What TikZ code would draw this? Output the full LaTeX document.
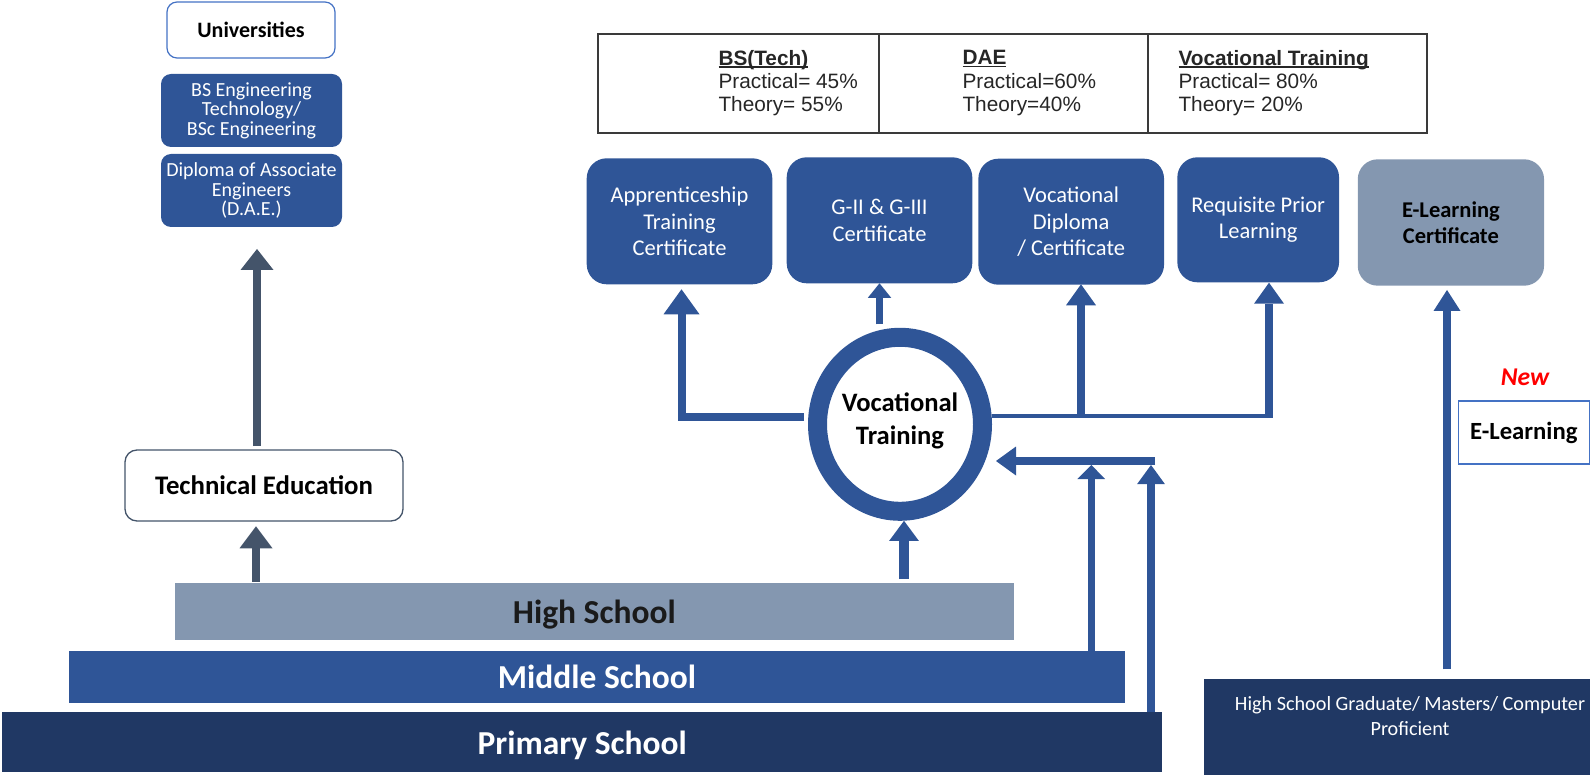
\documentclass[tikz,border=0pt]{standalone}
\usepackage{fontspec}
\setmainfont{Carlito}
\newfontfamily\arialf{Liberation Sans}
\usetikzlibrary{arrows.meta,shapes.geometric}
\newcommand{\myfs}[2]{\fontsize{#1}{#2}\selectfont}
\newcommand{\myul}[1]{\setbox0\hbox{#1}\rlap{\rule[-2.4pt]{\wd0}{1.3pt}}\box0}
\definecolor{cblue}{HTML}{2F5597}
\definecolor{cnavy}{HTML}{203864}
\definecolor{cgray}{HTML}{8497B0}
\definecolor{cslate}{HTML}{44546A}
\definecolor{cline}{HTML}{4472C4}
\definecolor{ctab}{HTML}{262626}
\definecolor{ctabline}{HTML}{3A3A3A}
\definecolor{ctext}{HTML}{1A1A1A}
\begin{document}
\begin{tikzpicture}[x=1pt,y=-1pt,
  base/.style={rectangle, inner sep=0pt, outer sep=0pt, align=center},
  navbox/.style={base, rounded corners=10pt, fill=cblue, text=white, font=\myfs{20}{19.5}},
  certbox/.style={base, rounded corners=20pt, fill=cblue, text=white, font=\myfs{22.5}{26.5}},
  bar/.style={base, font=\bfseries\myfs{33.5}{38}},
  cell/.style={base, draw=ctabline, line width=1.8pt},
  tabtext/.style={anchor=west, align=left, inner sep=0pt, text=ctab, font=\arialf\myfs{20.8}{23.3}},
  barrow/.style n args={3}{draw=cblue, line width=#1pt, -{Triangle[width=#2pt,length=#3pt,line width=0pt]}},
  garrow/.style n args={3}{draw=cslate, line width=#1pt, -{Triangle[width=#2pt,length=#3pt,line width=0pt]}}
]
\useasboundingbox (0,0) rectangle (1590,775);

% left column
\node[base, draw=cline, line width=1.2pt, rounded corners=10pt, minimum width=168pt, minimum height=56pt, font=\bfseries\myfs{22}{26}] (univ) at (251,30) {Universities};
\node[navbox, minimum width=181pt, minimum height=73pt] (bse) at (251.5,110.5) {BS Engineering\\Technology/\\BSc Engineering};
\node[navbox, minimum width=181pt, minimum height=73pt] (dae) at (251.5,190.5) {Diploma of Associate\\Engineers\\(D.A.E.)};
\node[base, draw=cslate, line width=1.3pt, rounded corners=12pt, minimum width=278pt, minimum height=71pt, font=\bfseries\myfs{26.8}{30}] (te) at (264,485.5) {Technical Education};

% school bars
\node[bar, fill=cgray, text=ctext, minimum width=839.5pt, minimum height=57pt] (hs) at (594.3,611.5) {\rule{0pt}{30pt}High School};
\node[bar, fill=cblue, text=white, minimum width=1056pt, minimum height=52.6pt] (ms) at (597,677) {Middle School};
\node[bar, fill=cnavy, text=white, minimum width=1160pt, minimum height=60pt] (ps) at (582.3,741.7) {\rule{0pt}{31pt}Primary School};

% table
\node[cell, minimum width=281.3pt, minimum height=99.3pt] (tc1) at (738.65,83.65) {};
\node[cell, minimum width=268.7pt, minimum height=99.3pt] (tc2) at (1013.65,83.65) {};
\node[cell, minimum width=279pt, minimum height=99.3pt] (tc3) at (1287.5,83.65) {};
\node[tabtext] (tt1) at (718.3,83.2) {\myul{\textbf{BS(Tech)}}\\Practical= 45\%\\Theory= 55\%};
\node[tabtext] (tt2) at (962.3,83.2) {\myul{\textbf{DAE}}\\Practical=60\%\\Theory=40\%};
\node[tabtext] (tt3) at (1178.3,83.2) {\myul{\textbf{Vocational Training}}\\Practical= 80\%\\Theory= 20\%};

% certificate boxes
\node[certbox, minimum width=185.6pt, minimum height=126pt] (app) at (679.5,221.3) {Apprenticeship\\Training\\Certificate};
\node[certbox, minimum width=185.6pt, minimum height=126pt] (g2) at (879.5,220.3) {G-II \& G-III\\Certificate};
\node[certbox, minimum width=185.7pt, minimum height=126pt] (vd) at (1071.2,221.7) {Vocational\\Diploma\\/ Certificate};
\node[certbox, minimum width=161.7pt, minimum height=125pt] (rpl) at (1258.2,219.8) {Requisite Prior\\Learning};
\node[certbox, fill=cgray, text=black, font=\bfseries\myfs{22.5}{26.5}, minimum width=186.3pt, minimum height=126.4pt] (elc) at (1450.9,222.5) {E-Learning\\Certificate};

% vocational training ring
\node[ellipse, draw=cblue, line width=19pt, minimum width=165pt, minimum height=174pt, inner sep=0pt, align=center, font=\bfseries\myfs{26.6}{33}] (vt) at (900,424.3) {Vocational\\Training\rule[-12pt]{0pt}{12pt}};

% right side
\node[inner sep=0pt, text=red, font=\bfseries\itshape\myfs{25.6}{28}] (new) at (1525,377) {New};
\node[base, draw=cline, line width=1.5pt, minimum width=131pt, minimum height=63pt, font=\bfseries\myfs{24.7}{28}] (el) at (1523.8,432.5) {E-Learning};
\node[base, fill=cnavy, minimum width=386pt, minimum height=95.7pt] (hsg) at (1397,727.2) {};
\node[base, text=white, font=\myfs{20.2}{25}] (hsgt) at (1410,716) {High School Graduate/ Masters/ Computer\\Proficient};

% coordinates for connector ends
\coordinate (appTip) at (681.5,289.3);
\coordinate (rEnd) at (1273,416.3);
\coordinate (vdTip) at (1081,284.3);
\coordinate (rplTip) at (1269,282.7);
\coordinate (jR) at (1155,461);
\coordinate (u1) at (1091.3,465);
\coordinate (u2) at (1151,465);

% connectors from the ring
\draw[barrow={8}{36}{25}, line join=miter, shorten <=4pt] (vt.west |- 0,416.7) -| (appTip);
\draw[barrow={7}{23.5}{14.6}, shorten <=3.4pt] (g2.south |- vt.north) -- (g2.south);
\draw[draw=cblue, line width=4pt] (vt.east |- rEnd) -- (rEnd);
\draw[barrow={8.3}{30}{21}] (vdTip |- rEnd) -- (vdTip);
\draw[barrow={8.3}{30}{21}] (rplTip |- rEnd) -- (rplTip);

% connectors into the ring
\draw[barrow={9.6}{29.6}{20}, shorten <=4pt] (hs.north -| 904,0) -- (vt.south -| 904,0);
\draw[barrow={7.5}{27.7}{14}] (u1 |- ms.north) -- (u1);
\draw[barrow={7.7}{27.7}{19}] (u2 |- ps.north) -- (u2);
\draw[barrow={8.3}{29}{20}] (jR) -- ([xshift=4pt]vt.east |- jR);

% e-learning
\draw[barrow={7.3}{27}{21}, shorten <=10pt] (hsg.north -| 1447,0) -- ([yshift=-4.3pt]elc.south -| 1447,0);

% technical education
\draw[garrow={8.5}{33}{22}, shorten <=1.3pt] (hs.north -| 256,0) -- ([yshift=-5.3pt]te.south -| 256,0);
\draw[garrow={8.5}{33}{21}, shorten <=4pt] (te.north -| 257,0) -- ([yshift=-22pt]dae.south -| 257,0);
\end{tikzpicture}
\end{document}
